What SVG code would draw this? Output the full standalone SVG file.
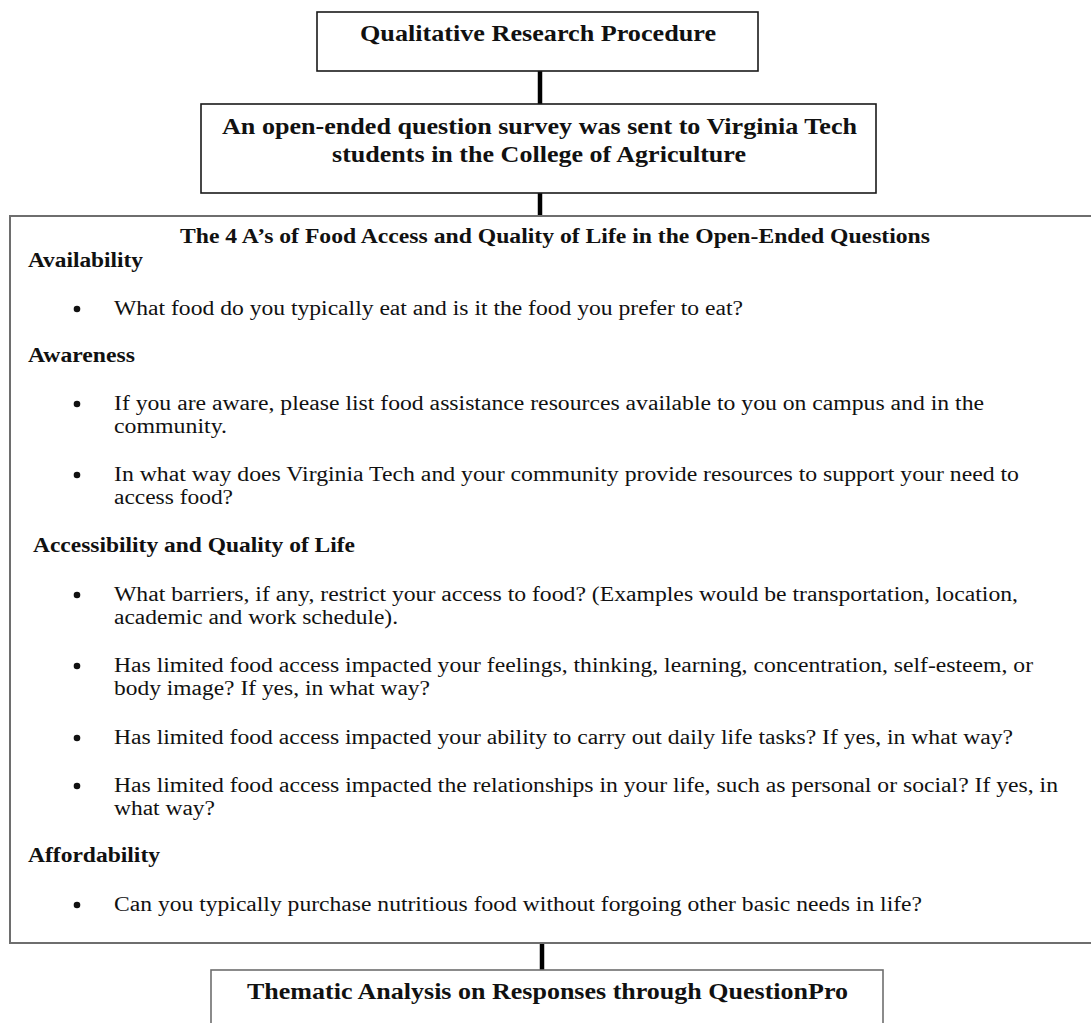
<svg xmlns="http://www.w3.org/2000/svg" width="1091" height="1023" viewBox="0 0 1091 1023">
<style>
  .bg { fill: #ffffff; }
  .box { fill: #ffffff; stroke: #1a1a1a; stroke-width: 1.6; }
  .gbox { fill: #ffffff; stroke: #6e6e6e; stroke-width: 2; }
  .conn { stroke: #000000; stroke-width: 4.5; fill: none; }
  .hb { font-family: "Liberation Serif", "Times New Roman", serif; font-weight: bold; font-size: 23px; fill: #111111; }
  .th { font-family: "Liberation Serif", "Times New Roman", serif; font-weight: bold; font-size: 20px; fill: #111111; }
  .tb { font-family: "Liberation Serif", "Times New Roman", serif; font-size: 20px; fill: #111111; }
  .dot { fill: #111111; }
</style>
<rect class="bg" x="0" y="0" width="1091" height="1023"/>

<g id="connectors">
  <line class="conn" x1="540" y1="71" x2="540" y2="104"/>
  <line class="conn" x1="540" y1="193" x2="540" y2="216"/>
  <line class="conn" x1="542" y1="943" x2="542" y2="970"/>
</g>

<g id="node-procedure">
  <rect class="box" x="317" y="12" width="441" height="59"/>
  <text class="hb" x="360" y="41" textLength="356" lengthAdjust="spacingAndGlyphs">Qualitative Research Procedure</text>
</g>

<g id="node-survey">
  <rect class="box" x="201" y="104" width="675" height="89"/>
  <text class="hb" x="222" y="134" textLength="635" lengthAdjust="spacingAndGlyphs">An open-ended question survey was sent to Virginia Tech</text>
  <text class="hb" x="332" y="162" textLength="414" lengthAdjust="spacingAndGlyphs">students in the College of Agriculture</text>
</g>

<g id="node-questions">
  <rect class="gbox" x="10" y="216" width="1095" height="727"/>
  <text class="th" x="180" y="243" textLength="750" lengthAdjust="spacingAndGlyphs">The 4 A’s of Food Access and Quality of Life in the Open-Ended Questions</text>

  <text class="th" x="28" y="267" textLength="115" lengthAdjust="spacingAndGlyphs">Availability</text>
  <circle class="dot" cx="77" cy="309" r="3.3"/>
  <text class="tb" x="114" y="315" textLength="629" lengthAdjust="spacingAndGlyphs">What food do you typically eat and is it the food you prefer to eat?</text>

  <text class="th" x="28" y="362" textLength="107" lengthAdjust="spacingAndGlyphs">Awareness</text>
  <circle class="dot" cx="77" cy="404" r="3.3"/>
  <text class="tb" x="114" y="410" textLength="870" lengthAdjust="spacingAndGlyphs">If you are aware, please list food assistance resources available to you on campus and in the</text>
  <text class="tb" x="114" y="433" textLength="113" lengthAdjust="spacingAndGlyphs">community.</text>
  <circle class="dot" cx="77" cy="475" r="3.3"/>
  <text class="tb" x="114" y="481" textLength="905" lengthAdjust="spacingAndGlyphs">In what way does Virginia Tech and your community provide resources to support your need to</text>
  <text class="tb" x="114" y="504" textLength="119" lengthAdjust="spacingAndGlyphs">access food?</text>

  <text class="th" x="33" y="552" textLength="322" lengthAdjust="spacingAndGlyphs">Accessibility and Quality of Life</text>
  <circle class="dot" cx="77" cy="595" r="3.3"/>
  <text class="tb" x="114" y="601" textLength="904" lengthAdjust="spacingAndGlyphs">What barriers, if any, restrict your access to food? (Examples would be transportation, location,</text>
  <text class="tb" x="114" y="624" textLength="284" lengthAdjust="spacingAndGlyphs">academic and work schedule).</text>
  <circle class="dot" cx="77" cy="666" r="3.3"/>
  <text class="tb" x="114" y="672" textLength="919" lengthAdjust="spacingAndGlyphs">Has limited food access impacted your feelings, thinking, learning, concentration, self-esteem, or</text>
  <text class="tb" x="114" y="695" textLength="316" lengthAdjust="spacingAndGlyphs">body image? If yes, in what way?</text>
  <circle class="dot" cx="77" cy="738" r="3.3"/>
  <text class="tb" x="114" y="744" textLength="899" lengthAdjust="spacingAndGlyphs">Has limited food access impacted your ability to carry out daily life tasks? If yes, in what way?</text>
  <circle class="dot" cx="77" cy="786" r="3.3"/>
  <text class="tb" x="114" y="792" textLength="944" lengthAdjust="spacingAndGlyphs">Has limited food access impacted the relationships in your life, such as personal or social? If yes, in</text>
  <text class="tb" x="114" y="815" textLength="101" lengthAdjust="spacingAndGlyphs">what way?</text>

  <text class="th" x="28" y="862" textLength="132" lengthAdjust="spacingAndGlyphs">Affordability</text>
  <circle class="dot" cx="77" cy="905" r="3.3"/>
  <text class="tb" x="114" y="911" textLength="808" lengthAdjust="spacingAndGlyphs">Can you typically purchase nutritious food without forgoing other basic needs in life?</text>
</g>

<g id="node-thematic">
  <rect class="gbox" x="211" y="970" width="672" height="70" style="stroke-width:1.6"/>
  <text class="hb" x="247" y="999" textLength="601" lengthAdjust="spacingAndGlyphs">Thematic Analysis on Responses through QuestionPro</text>
</g>
</svg>
